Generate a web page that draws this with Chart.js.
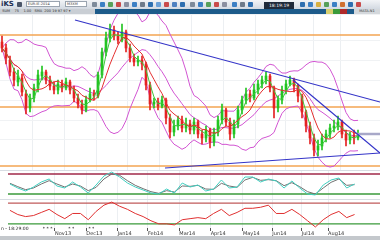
<!DOCTYPE html>
<html>
<head>
<meta charset="utf-8">
<script src="https://cdn.jsdelivr.net/npm/chart.js@4.4.1/dist/chart.umd.min.js"></script>
<style>
html, body { margin: 0; padding: 0; width: 380px; height: 240px; overflow: hidden; background: #fff; font-family: "DejaVu Sans", sans-serif; }
.abs { position: absolute; }
#tb1 { left: 0; top: 0; width: 380px; height: 9px; background: linear-gradient(#f2f4f7, #d3d9e1); }
#tb2 { left: 0; top: 9px; width: 380px; height: 5px; background: #1d5b8a; }
#tb2 .lt { position: absolute; left: 0; top: 0; width: 95px; height: 5px; background: #c9ced4; color: #333; font-size: 3.5px; line-height: 5px; white-space: pre; }
#tb2 .rt { position: absolute; right: 0; top: 0; width: 26px; height: 5px; background: #d4d8dc; color: #333; font-size: 3.5px; line-height: 5px; text-align: center; }
.logo { left: 1px; top: 0; font-size: 7px; line-height: 9px; font-weight: bold; color: #1b2d52; }
.inp { top: 1px; height: 6px; background: #fff; border: 1px solid #9aa4b0; box-sizing: border-box; font-size: 3.5px; line-height: 5px; color: #333; padding-left: 1px; }
.ico { top: 2px; width: 5px; height: 5px; border-radius: 1px; }
.clock { left: 264px; top: 2px; width: 30px; height: 7px; background: #1f2a3a; color: #fff; font-size: 4.5px; line-height: 7px; text-align: center; }
.cell { top: 0; height: 5px; width: 7px; }
#main { left: 0; top: 14px; }
#p1 { left: 0; top: 170px; border-top: 1px solid #d8dde3; }
#p2 { left: 0; top: 199px; border-top: 1px solid #d8dde3; }
#foot { left: 0; top: 236px; width: 380px; height: 4px; background: #c4c8cc; }
.note { left: 1px; top: 226px; font-size: 4.5px; line-height: 6px; color: #222; white-space: pre; }
</style>
</head>
<body>
<div id="tb1" class="abs">
  <span class="abs logo">iKS</span>
  <span class="abs ico" style="left:17px;background:#4a5568"></span>
  <span class="abs inp" style="left:26px;width:34px">EUR-IE-2014</span>
  <span class="abs inp" style="left:65px;width:22px">M3XM</span>
  <span class="abs ico" style="left:92px;background:#7d8a9a"></span>
  <span class="abs ico" style="left:100px;background:#3b7fc4"></span>
  <span class="abs ico" style="left:108px;background:#57a05a"></span>
  <span class="abs ico" style="left:116px;background:#c94a4a"></span>
  <span class="abs ico" style="left:124px;background:#8a8fa0"></span>
  <span class="abs ico" style="left:132px;background:#3b7fc4"></span>
  <span class="abs ico" style="left:140px;background:#6d7a8a"></span>
  <span class="abs ico" style="left:148px;background:#2e6fb0"></span>
  <span class="abs ico" style="left:156px;background:#6aa0d8"></span>
  <span class="abs ico" style="left:164px;background:#c94a4a"></span>
  <span class="abs ico" style="left:172px;background:#4d80c0"></span>
  <span class="abs ico" style="left:180px;background:#2e6fb0"></span>
  <span class="abs ico" style="left:190px;background:#7d8a9a"></span>
  <span class="abs ico" style="left:198px;background:#3b7fc4"></span>
  <span class="abs ico" style="left:206px;background:#57a05a"></span>
  <span class="abs ico" style="left:214px;background:#c94a4a"></span>
  <span class="abs ico" style="left:222px;background:#8a8fa0"></span>
  <span class="abs ico" style="left:232px;background:#3b7fc4"></span>
  <span class="abs ico" style="left:240px;background:#6d7a8a"></span>
  <span class="abs ico" style="left:248px;background:#2e6fb0"></span>
  <span class="abs clock">18:19:19</span>
  <span class="abs ico" style="left:300px;background:#2e6fb0"></span>
  <span class="abs ico" style="left:308px;background:#3b7fc4"></span>
  <span class="abs ico" style="left:316px;background:#d8b040"></span>
  <span class="abs ico" style="left:324px;background:#57a05a"></span>
  <span class="abs ico" style="left:332px;background:#3b7fc4"></span>
  <span class="abs ico" style="left:340px;background:#d07030"></span>
  <span class="abs ico" style="left:348px;background:#2e6fb0"></span>
  <span class="abs ico" style="left:356px;background:#c94a4a"></span>
</div>
<div id="tb2" class="abs">
  <span class="lt">  SUM    75    1.00   SMA  200 19 97 97 ▾</span>
  <span class="abs cell" style="left:326px;background:#d8d070"></span>
  <span class="abs cell" style="left:333px;background:#3a9a3a"></span>
  <span class="abs cell" style="left:340px;background:#b02a2a"></span>
  <span class="rt">MATA.N1</span>
</div>
<div id="main" class="abs"><canvas id="cMain" width="380" height="156"></canvas></div>
<div id="p1" class="abs"><canvas id="cP1" width="380" height="28"></canvas></div>
<div id="p2" class="abs"><canvas id="cP2" width="380" height="37"></canvas></div>
<div class="abs note">n - 18:29:00          * * *           * *          * *</div>
<div id="foot" class="abs"></div>

<script>
// candles, one per step on the x axis
const opens = [1.458,1.452,1.440,1.428,1.418,1.422,1.406,1.392,1.402,1.412,
  1.424,1.428,1.420,1.414,1.410,1.416,1.412,1.418,1.410,1.402,
  1.396,1.390,1.400,1.406,1.404,1.425,1.448,1.462,1.470,1.464,
  1.460,1.468,1.452,1.442,1.438,1.440,1.436,1.415,1.396,1.398,
  1.394,1.400,1.382,1.368,1.374,1.380,1.372,1.376,1.370,1.378,
  1.366,1.362,1.370,1.358,1.368,1.380,1.390,1.378,1.366,1.376,
  1.390,1.400,1.406,1.402,1.410,1.416,1.420,1.424,1.412,1.392,
  1.400,1.410,1.416,1.420,1.414,1.404,1.388,1.374,1.362,1.350,
  1.354,1.362,1.366,1.372,1.374,1.378,1.366,1.360,1.364,1.362];
const highs = [1.464,1.456,1.444,1.432,1.430,1.426,1.410,1.406,1.416,1.430,
  1.434,1.430,1.424,1.418,1.420,1.420,1.422,1.420,1.414,1.406,
  1.400,1.404,1.412,1.410,1.428,1.452,1.468,1.476,1.474,1.468,
  1.476,1.470,1.456,1.446,1.444,1.444,1.438,1.418,1.402,1.402,
  1.404,1.402,1.386,1.380,1.384,1.384,1.382,1.380,1.382,1.380,
  1.370,1.374,1.372,1.372,1.384,1.396,1.392,1.382,1.380,1.394,
  1.404,1.412,1.410,1.416,1.420,1.424,1.428,1.426,1.414,1.404,
  1.414,1.420,1.424,1.422,1.416,1.406,1.390,1.378,1.366,1.360,
  1.366,1.370,1.376,1.380,1.384,1.380,1.370,1.368,1.370,1.370];
const lows = [1.448,1.436,1.424,1.414,1.414,1.404,1.386,1.388,1.398,1.408,
  1.420,1.416,1.410,1.406,1.406,1.408,1.410,1.406,1.398,1.392,
  1.386,1.388,1.398,1.400,1.402,1.422,1.444,1.458,1.460,1.456,
  1.458,1.448,1.438,1.434,1.434,1.430,1.410,1.390,1.392,1.390,
  1.392,1.376,1.362,1.364,1.370,1.368,1.368,1.366,1.366,1.362,
  1.356,1.358,1.352,1.354,1.364,1.376,1.374,1.360,1.362,1.372,
  1.386,1.396,1.398,1.400,1.406,1.412,1.416,1.408,1.382,1.388,
  1.396,1.406,1.414,1.408,1.398,1.382,1.368,1.356,1.344,1.344,
  1.350,1.358,1.362,1.368,1.370,1.362,1.354,1.356,1.356,1.360];
const closes = [1.452,1.442,1.428,1.420,1.424,1.408,1.392,1.402,1.412,1.425,
  1.428,1.420,1.414,1.410,1.416,1.412,1.418,1.410,1.402,1.396,
  1.390,1.400,1.406,1.404,1.425,1.448,1.462,1.470,1.464,1.460,
  1.468,1.452,1.442,1.438,1.440,1.436,1.415,1.396,1.398,1.394,
  1.400,1.382,1.368,1.374,1.380,1.372,1.376,1.370,1.378,1.366,
  1.362,1.370,1.358,1.368,1.380,1.390,1.378,1.366,1.376,1.390,
  1.400,1.406,1.402,1.410,1.416,1.420,1.424,1.412,1.392,1.400,
  1.410,1.416,1.420,1.414,1.404,1.388,1.374,1.362,1.350,1.354,
  1.362,1.366,1.372,1.374,1.378,1.366,1.360,1.364,1.362,1.366];

// horizontal levels and drawn trend lines ([index, price])
const levels = [1.465, 1.393, 1.334];
const trendTop = [[18.25, 1.480], [94.5, 1.398]];
const trendFall = [[72.75, 1.420], [94.5, 1.347]];
const trendBase = [[40.75, 1.332], [94.5, 1.347]];
const pivotLine = [[88.75, 1.366], [94.5, 1.366]];

// oscillators, read every second candle
const stochK = [50,38,29,41,56,65,44,38,56,41, 23,47,74,86,71,53,41,32,23,20,
  35,23,53,41,47,29,35,62,38,41, 71,71,56,65,59,38,59,38,20,17, 47,62,68,38,50];
const stochD = [52,42,33,38,50,60,50,41,50,44, 30,40,65,80,76,60,46,36,27,22,
  30,26,44,43,46,35,34,52,44,40, 62,70,61,63,60,45,54,42,27,20, 38,55,65,46,48];
const rsi = [56,48,44,46,52,58,48,40,50,50, 38,54,66,72,64,58,50,44,36,30,
  30,28,38,40,42,40,50,58,46,52, 60,60,62,66,50,50,58,48,36,24, 38,48,54,42,48];

const monthLabels = ["Nov13","Dec13","Jan14","Feb14","Mar14","Apr14","May14","Jun14","Jul14","Aug14"];
const monthIdx = [11.5, 19.5, 27.5, 35.25, 43.25, 51.25, 59.5, 67, 74.5, 81.25];

const X_MIN = -0.5, X_MAX = 94.5;
const UP = "#22c422", DOWN = "#e42222";

function sma(src, n) {
  return src.map((_, i) => {
    const win = src.slice(Math.max(0, i - n + 1), i + 1);
    return win.reduce((a, b) => a + b, 0) / win.length;
  });
}

function bollinger(src, n, k) {
  const mid = sma(src, n);
  const up = [], lo = [];
  src.forEach((_, i) => {
    const win = src.slice(Math.max(0, i - n + 1), i + 1);
    const sd = Math.sqrt(win.reduce((a, b) => a + (b - mid[i]) ** 2, 0) / win.length);
    up.push(mid[i] + k * sd);
    lo.push(mid[i] - k * sd);
  });
  return { mid, up, lo };
}

const pts = (arr) => arr.map((v, i) => ({ x: i, y: v }));
const pairs = (arr) => arr.map(([x, y]) => ({ x, y }));
const oscPts = (arr) => arr.map((v, k) => ({ x: k * 2, y: v }));
const flat = (v) => [{ x: X_MIN, y: v }, { x: X_MAX, y: v }];
const isUp = (i) => closes[i] >= opens[i];

const bb = bollinger(closes, 12, 2);
const fastMa = sma(closes, 3);
const slowMa = sma(closes, 6);

function line(data, color, width, order) {
  return { type: "line", data, borderColor: color, borderWidth: width,
    pointRadius: 0, tension: 0, fill: false, order, clip: 0 };
}

const monthTicks = (axis) => { axis.ticks = monthIdx.map((v) => ({ value: v })); };

const baseOpts = {
  responsive: false,
  animation: false,
  events: [],
  layout: { padding: 0 },
  plugins: { legend: { display: false }, tooltip: { enabled: false } },
};

new Chart(document.getElementById("cMain"), {
  type: "bar",
  data: {
    datasets: [
      ...levels.map((v) => line(flat(v), "#f3a552", 1.3, 6)),
      line(pts(bb.up), "#d255d2", 1, 5),
      line(pts(bb.mid), "#d255d2", 1, 5),
      line(pts(bb.lo), "#d255d2", 1, 5),
      {
        data: closes.map((_, i) => ({ x: i, y: [lows[i], highs[i]] })),
        backgroundColor: (c) => (isUp(c.dataIndex) ? UP : DOWN),
        barThickness: 1, grouped: false, order: 4,
      },
      {
        data: closes.map((_, i) => ({ x: i, y: [opens[i], closes[i]] })),
        backgroundColor: (c) => (isUp(c.dataIndex) ? UP : DOWN),
        barThickness: 2, minBarLength: 1, grouped: false, order: 3,
      },
      line(pts(slowMa), "#e43030", 1, 2),
      line(pts(fastMa), "#3cc83c", 1, 2),
      line(pairs(trendTop), "#3434c8", 1.2, 1),
      line(pairs(trendFall), "#3434c8", 1.2, 1),
      line(pairs(trendBase), "#3434c8", 1.2, 1),
      line(pairs(pivotLine), "#a8a8c8", 2.5, 1),
    ],
  },
  options: {
    ...baseOpts,
    scales: {
      x: { type: "linear", min: X_MIN, max: X_MAX, offset: false,
        afterBuildTicks: monthTicks,
        ticks: { display: false }, border: { display: false },
        grid: { color: "#eceff2", drawTicks: false } },
      y: { min: 1.330, max: 1.486,
        ticks: { display: false, stepSize: 0.02 }, border: { display: false },
        grid: { color: "#f0f2f4", drawTicks: false } },
    },
  },
});

new Chart(document.getElementById("cP1"), {
  type: "line",
  data: {
    datasets: [
      line(flat(80), "#a02848", 1.3, 3),
      line(flat(20), "#3a9a3a", 1.3, 3),
      line(oscPts(stochD), "#707070", 1, 2),
      line(oscPts(stochK), "#40cfc0", 1, 1),
    ],
  },
  options: {
    ...baseOpts,
    scales: {
      x: { type: "linear", min: X_MIN, max: X_MAX, afterBuildTicks: monthTicks,
        ticks: { display: false }, border: { display: false },
        grid: { color: "#eceff2", drawTicks: false } },
      y: { min: 5, max: 89, ticks: { display: false }, border: { display: false },
        grid: { display: false } },
    },
  },
});

new Chart(document.getElementById("cP2"), {
  type: "line",
  data: {
    datasets: [
      line(flat(70), "#c05a5a", 1.3, 3),
      line(flat(30), "#3a9a3a", 1.3, 3),
      line(oscPts(rsi), "#e03030", 1, 1),
    ],
  },
  options: {
    ...baseOpts,
    scales: {
      x: { type: "linear", min: X_MIN, max: X_MAX, afterBuildTicks: monthTicks,
        ticks: { font: { size: 5, family: "DejaVu Sans" }, color: "#333", padding: 0,
          align: "start", maxRotation: 0, autoSkip: false,
          callback: (v, i) => monthLabels[i] },
        border: { display: false },
        grid: { color: "#eceff2", tickLength: 3, tickColor: "#555" } },
      y: { min: 22, max: 76, ticks: { display: false }, border: { display: false },
        grid: { display: false } },
    },
  },
});
</script>
</body>
</html>
